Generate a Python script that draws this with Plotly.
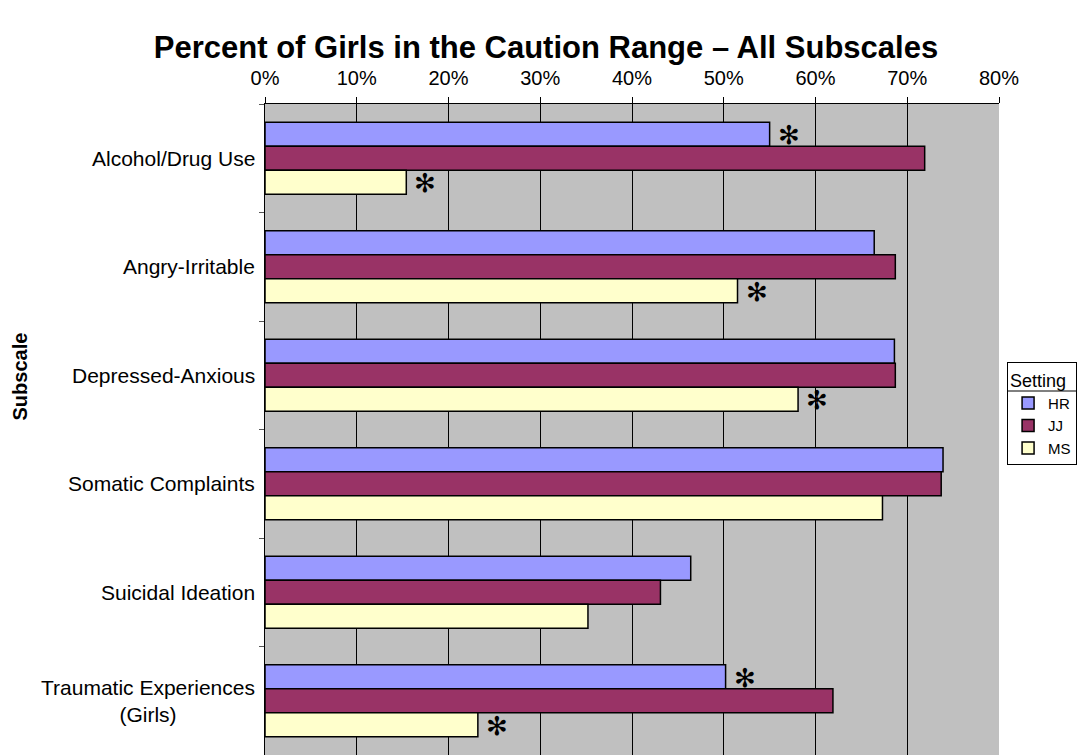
import plotly.graph_objects as go

categories = ["Alcohol/Drug Use", "Angry-Irritable", "Depressed-Anxious",
              "Somatic Complaints", "Suicidal Ideation", "Traumatic Experiences<br>(Girls)"]
series_names = ["HR", "JJ", "MS"]
hr = [0.550, 0.664, 0.686, 0.739, 0.464, 0.502]
jj = [0.719, 0.687, 0.687, 0.737, 0.431, 0.619]
ms = [0.154, 0.515, 0.581, 0.673, 0.352, 0.232]
# significance markers (asterisks) per series
hr_sig = [True, False, False, False, False, True]
jj_sig = [False, False, False, False, False, False]
ms_sig = [True, True, True, False, False, True]
x_ticks = [0, 0.1, 0.2, 0.3, 0.4, 0.5, 0.6, 0.7, 0.8]

colors = ["#9999FF", "#993366", "#FFFFCC"]
values = [hr, jj, ms]
sigs = [hr_sig, jj_sig, ms_sig]
font = "Liberation Sans, Arial, sans-serif"

fig = go.Figure()
for name, vals, col in zip(series_names, values, colors):
    fig.add_trace(go.Bar(
        y=categories, x=vals, name=name, orientation="h",
        marker=dict(color=col, line=dict(color="#000000", width=1.5)),
        hoverinfo="x+y+name",
    ))

# asterisks
yshifts = [24, 0, -24]
for vals, sg, ys in zip(values, sigs, yshifts):
    for cat, v, s in zip(categories, vals, sg):
        if s:
            fig.add_annotation(x=v, y=cat, xref="x", yref="y", text="✻",
                               showarrow=False, xanchor="center", yanchor="middle",
                               xshift=19, yshift=ys - 1,
                               font=dict(family="DejaVu Sans", size=26, color="#000000"))

# category labels (centered multi-line)
for cat in categories:
    fig.add_annotation(x=0, y=cat, xref="paper", yref="y", text=cat,
                       showarrow=False, xanchor="right", yanchor="middle",
                       align="center", xshift=-8,
                       font=dict(family=font, size=21, color="#000000"))

fig.add_annotation(x=0, y=0.5, xref="paper", yref="paper", text="<b>Subscale</b>",
                   showarrow=False, textangle=-90, xanchor="center", yanchor="middle",
                   xshift=-246, yshift=53,
                   font=dict(family=font, size=20, color="#000000"))

# legend background and separator line under the legend title
def px_x(p):
    return (p - 265) / 734

def px_y(p):
    return (755 - p) / 651

fig.add_shape(type="rect", xref="paper", yref="paper", layer="below",
              x0=px_x(1007), x1=px_x(1077), y0=px_y(464), y1=px_y(362),
              fillcolor="#FFFFFF", line=dict(width=0))
fig.add_shape(type="line", xref="paper", yref="paper", layer="above",
              x0=px_x(1007), x1=px_x(1077), y0=px_y(391), y1=px_y(391),
              line=dict(color="#000000", width=1))

fig.update_layout(
    width=1092, height=755,
    margin=dict(l=265, r=93, t=104, b=0),
    paper_bgcolor="#FFFFFF", plot_bgcolor="#C0C0C0",
    barmode="group", bargap=0.335, bargroupgap=0,
    title=dict(text="<b>Percent of Girls in the Caution Range – All Subscales</b>",
               x=0.5, xref="container", xanchor="center",
               y=1 - 47 / 755, yref="container", yanchor="middle",
               font=dict(family=font, size=31, color="#000000")),
    font=dict(family=font, size=16, color="#000000"),
    showlegend=True,
    legend=dict(title=dict(text="Setting", font=dict(family=font, size=18)),
                font=dict(family=font, size=15, color="#000000"),
                traceorder="normal",
                x=1.011, y=0.603, xanchor="left", yanchor="top",
                bordercolor="#000000", borderwidth=1, bgcolor="rgba(0,0,0,0)",
                itemwidth=30, tracegroupgap=0),
)
fig.update_xaxes(side="top", range=[0, 0.8], tickvals=x_ticks, tickformat=".0%",
                 showgrid=True, gridcolor="#000000", gridwidth=1,
                 ticks="outside", ticklen=6, tickcolor="#000000",
                 ticklabelstandoff=4,
                 showline=True, linecolor="#000000", linewidth=1,
                 zeroline=False, fixedrange=True,
                 tickfont=dict(family=font, size=20, color="#000000"))
fig.update_yaxes(autorange="reversed", showticklabels=False,
                 ticks="outside", tickson="boundaries", ticklen=5, tickcolor="#555555",
                 showline=True, linecolor="#000000", linewidth=1,
                 showgrid=False, zeroline=False, fixedrange=True)

fig.write_html("out.html")
